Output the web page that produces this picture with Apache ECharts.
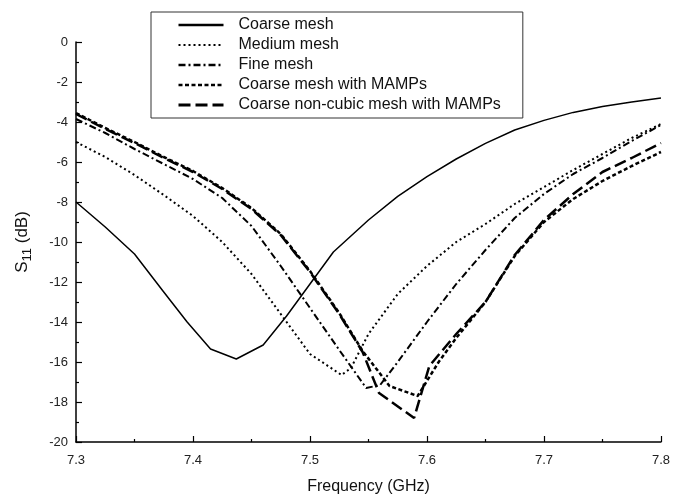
<!DOCTYPE html>
<html>
<head>
<meta charset="utf-8">
<script src="https://cdn.jsdelivr.net/npm/echarts@6/dist/echarts.min.js"></script>
<style>
html,body{margin:0;padding:0;background:#fff;}
#chart{width:673px;height:500px;}
</style>
</head>
<body>
<div id="chart"></div>
<script>
// ---- Data ----
const seriesNames = ["Coarse mesh", "Medium mesh", "Fine mesh", "Coarse mesh with MAMPs", "Coarse non-cubic mesh with MAMPs"];

const coarseF = [7.30, 7.325, 7.35, 7.375, 7.395, 7.415, 7.437, 7.46, 7.48, 7.50, 7.52, 7.55, 7.575, 7.60, 7.625, 7.65, 7.675, 7.70, 7.725, 7.75, 7.775, 7.80];
const coarseV = [-8.0, -9.25, -10.6, -12.5, -14.0, -15.35, -15.85, -15.15, -13.7, -12.1, -10.5, -8.9, -7.72, -6.73, -5.85, -5.07, -4.4, -3.92, -3.52, -3.23, -3.0, -2.8];

const mediumF = [7.30, 7.325, 7.35, 7.375, 7.40, 7.425, 7.45, 7.475, 7.50, 7.527, 7.535, 7.55, 7.575, 7.60, 7.625, 7.65, 7.675, 7.70, 7.725, 7.75, 7.775, 7.80];
const mediumV = [-5.0, -5.75, -6.65, -7.65, -8.7, -10.0, -11.6, -13.6, -15.6, -16.65, -16.3, -14.6, -12.6, -11.2, -10.0, -9.1, -8.1, -7.25, -6.4, -5.6, -4.8, -4.1];

const fineF = [7.30, 7.325, 7.35, 7.375, 7.40, 7.425, 7.45, 7.475, 7.50, 7.525, 7.548, 7.56, 7.575, 7.60, 7.625, 7.65, 7.675, 7.70, 7.725, 7.75, 7.775, 7.80];
const fineV = [-3.85, -4.55, -5.35, -6.1, -6.85, -7.8, -9.2, -11.2, -13.3, -15.4, -17.3, -17.15, -16.0, -14.0, -12.1, -10.4, -8.8, -7.6, -6.6, -5.8, -4.95, -4.15];

const mampsF = [7.30, 7.325, 7.35, 7.375, 7.40, 7.425, 7.45, 7.475, 7.50, 7.525, 7.545, 7.568, 7.592, 7.61, 7.625, 7.65, 7.675, 7.70, 7.725, 7.75, 7.775, 7.80];
const mampsV = [-3.55, -4.3, -5.0, -5.75, -6.45, -7.3, -8.3, -9.6, -11.45, -13.55, -15.45, -17.2, -17.7, -16.0, -14.8, -13.0, -10.7, -9.0, -7.85, -6.95, -6.2, -5.5];

const noncubicF = [7.30, 7.325, 7.35, 7.375, 7.40, 7.425, 7.45, 7.475, 7.50, 7.525, 7.545, 7.559, 7.589, 7.602, 7.625, 7.65, 7.675, 7.70, 7.725, 7.75, 7.775, 7.80];
const noncubicV = [-3.6, -4.35, -5.05, -5.8, -6.5, -7.35, -8.35, -9.65, -11.5, -13.6, -15.5, -17.55, -18.8, -16.2, -14.6, -13.0, -10.65, -8.9, -7.6, -6.5, -5.8, -5.05];

const xTicks = [7.3, 7.4, 7.5, 7.6, 7.7, 7.8];
const yTicks = [0, -2, -4, -6, -8, -10, -12, -14, -16, -18, -20];

// ---- Chart ----
function pairs(f, v) { return f.map((x, i) => [x, v[i]]); }

const styles = [
  { type: 'solid', width: 1.5, legendWidth: 2.5 },
  { type: [2, 3], width: 2, legendWidth: 2 },
  { type: [7, 3, 2, 3], width: 2, legendWidth: 2.5 },
  { type: [4, 2.5], width: 2.5, legendWidth: 2.5 },
  { type: [12, 5], width: 2.5, legendWidth: 3 }
];
const datasets = [
  pairs(coarseF, coarseV),
  pairs(mediumF, mediumV),
  pairs(fineF, fineV),
  pairs(mampsF, mampsV),
  pairs(noncubicF, noncubicV)
];

const chart = echarts.init(document.getElementById('chart'), null, { renderer: 'canvas' });
const font = "'Liberation Sans', Arial, Helvetica, sans-serif";

chart.setOption({
  animation: false,
  backgroundColor: '#ffffff',
  textStyle: { fontFamily: font },
  grid: { left: 76, right: 11, top: 42, bottom: 58, containLabel: false },
  legend: {
    data: seriesNames.map((n, i) => ({
      name: n,
      lineStyle: { color: '#000', width: styles[i].legendWidth, type: styles[i].type }
    })),
    orient: 'vertical',
    left: 151,
    top: 12,
    padding: [3, 22, 3, 26],
    itemGap: 0,
    itemWidth: 45,
    itemHeight: 20,
    borderColor: '#333',
    borderWidth: 1,
    backgroundColor: '#fff',
    selectedMode: false,
    itemStyle: { opacity: 0, borderWidth: 0 },
    textStyle: { fontFamily: font, fontSize: 16, color: '#111', lineHeight: 20, padding: [0, 0, 0, 10] }
  },
  xAxis: {
    type: 'value',
    min: 7.3,
    max: 7.8,
    interval: 0.1,
    name: 'Frequency (GHz)',
    nameLocation: 'middle',
    nameGap: 37,
    nameTextStyle: { fontFamily: font, fontSize: 16, color: '#111' },
    axisLine: { show: true, onZero: false, lineStyle: { color: '#000', width: 1.5 } },
    axisTick: { show: true, inside: true, length: 6, lineStyle: { color: '#000', width: 1.2 } },
    minorTick: { show: true, splitNumber: 2, length: 3, lineStyle: { color: '#000', width: 1.2 } },
    splitLine: { show: false },
    axisLabel: {
      fontFamily: font, fontSize: 13, color: '#222', margin: 12,
      formatter: v => { const t = xTicks.find(k => Math.abs(k - v) < 1e-6); return t !== undefined ? t.toFixed(1) : ''; }
    }
  },
  yAxis: {
    type: 'value',
    min: -20,
    max: 0,
    interval: 2,
    name: '{s|S}{sub|11}{s| (dB)}',
    nameLocation: 'middle',
    nameGap: 42,
    nameRotate: 90,
    nameTextStyle: {
      fontFamily: font, fontSize: 17, color: '#111',
      rich: {
        s: { fontFamily: font, fontSize: 17, color: '#111', lineHeight: 24, verticalAlign: 'middle' },
        sub: { fontFamily: font, fontSize: 13, color: '#111', lineHeight: 24, verticalAlign: 'bottom' }
      }
    },
    axisLine: { show: true, onZero: false, lineStyle: { color: '#000', width: 1.5 } },
    axisTick: { show: true, inside: true, length: 6, lineStyle: { color: '#000', width: 1.2 } },
    minorTick: { show: true, splitNumber: 2, length: 3, lineStyle: { color: '#000', width: 1.2 } },
    splitLine: { show: false },
    axisLabel: {
      fontFamily: font, fontSize: 13, color: '#222', margin: 8,
      formatter: v => { const t = yTicks.find(k => Math.abs(k - v) < 1e-6); return t !== undefined ? String(t) : ''; }
    }
  },
  series: seriesNames.map((name, i) => ({
    name: name,
    type: 'line',
    data: datasets[i],
    showSymbol: false,
    symbol: 'none',
    smooth: false,
    color: '#000',
    lineStyle: { color: '#000', width: styles[i].width, type: styles[i].type }
  }))
});
</script>
</body>
</html>
